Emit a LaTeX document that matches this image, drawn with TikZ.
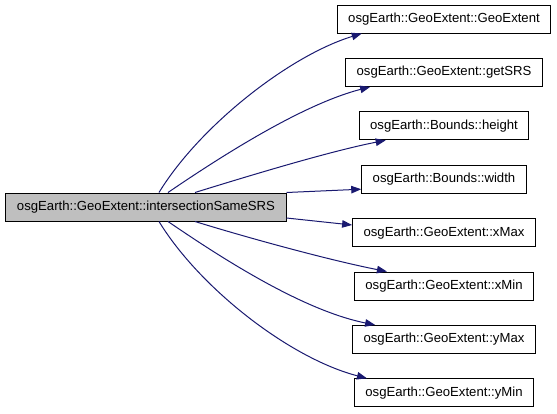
\documentclass[tikz,border=0pt]{standalone}
\usepackage{fontspec}
\setmainfont{Liberation Sans}
\usetikzlibrary{arrows.meta}
\definecolor{edgeblue}{HTML}{191970}
\definecolor{maingray}{HTML}{BFBFBF}
\begin{document}
\begin{tikzpicture}[x=1pt,y=-1pt,
  fnbox/.style={draw=black,line width=1pt,fill=white,minimum height=28pt,inner xsep=11pt,inner ysep=0pt,
    font=\fontsize{13.15}{15}\selectfont,anchor=center},
  mainbox/.style={fnbox,fill=maingray},
  calledge/.style={draw=edgeblue,line width=1pt,-{Triangle[length=10pt,width=7.5pt]}}]
\useasboundingbox (0,0) rectangle (557,413);
\node[mainbox] (main) at (146,207) {osgEarth::GeoExtent::intersectionSameSRS};
\node[fnbox] (b1) at (444,19) {osgEarth::GeoExtent::GeoExtent};
\node[fnbox] (b2) at (444,72.4) {osgEarth::GeoExtent::getSRS};
\node[fnbox] (b3) at (444,125.8) {osgEarth::Bounds::height};
\node[fnbox] (b4) at (444,179.2) {osgEarth::Bounds::width};
\node[fnbox] (b5) at (444,232.6) {osgEarth::GeoExtent::xMax};
\node[fnbox] (b6) at (444,286) {osgEarth::GeoExtent::xMin};
\node[fnbox] (b7) at (444,339.4) {osgEarth::GeoExtent::yMax};
\node[fnbox] (b8) at (444,392.8) {osgEarth::GeoExtent::yMin};
\draw[calledge] ([xshift=13pt]main.north) .. controls +(41,-67) and +(-72,22) .. ([xshift=25pt]b1.south west);
\draw[calledge] ([xshift=22pt]main.north) .. controls +(47,-32) and +(-70,18) .. ([xshift=25pt]b2.south west);
\draw[calledge] ([xshift=49pt]main.north) .. controls +(55,-17) and +(-56,11) .. ([xshift=27pt]b3.south west);
\draw[calledge] (main.north east) -- ([yshift=-10pt]b4.west);
\draw[calledge] ([yshift=-11pt]main.east) -- ([yshift=7.6pt]b5.west);
\draw[calledge] ([xshift=49pt]main.south) .. controls +(55,17) and +(-56,-11) .. ([xshift=33pt]b6.north west);
\draw[calledge] ([xshift=22pt]main.south) .. controls +(47,32) and +(-75,-15) .. ([xshift=23pt]b7.north west);
\draw[calledge] ([xshift=13pt]main.south) .. controls +(41,67) and +(-77,-20) .. ([xshift=13pt]b8.north west);
\end{tikzpicture}
\end{document}
